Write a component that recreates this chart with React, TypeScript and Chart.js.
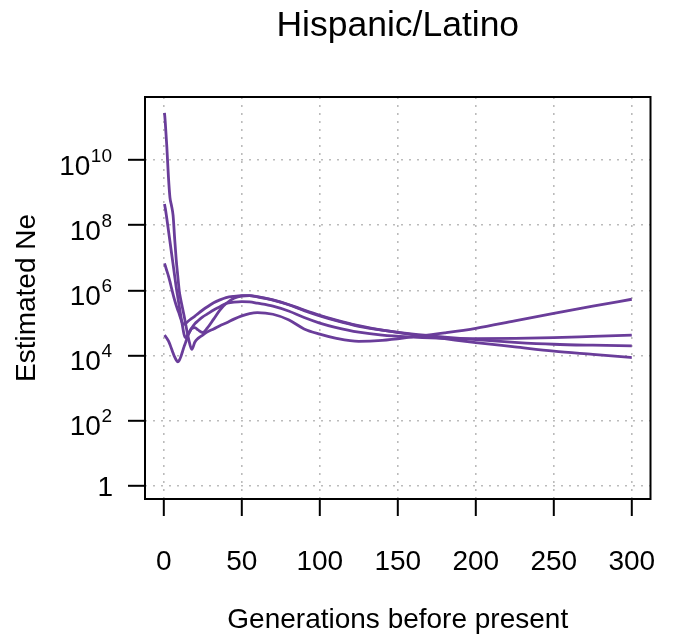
import React, { useEffect, useRef } from 'react';
import { Chart, registerables } from 'chart.js';

Chart.register(...registerables);

const FONT = "'Liberation Sans', Arial, Helvetica, sans-serif";
const LINE_COLOR = '#6a3d9a';

const chartTitle = 'Hispanic/Latino';
const xAxisTitle = 'Generations before present';
const yAxisTitle = 'Estimated Ne';

const xTicks = [0, 50, 100, 150, 200, 250, 300];
const yTickExponents = [0, 2, 4, 6, 8, 10];
const xRange = [-12, 312];
const yRange = [0.4, 8.6e11];

const generations = [
  0.5, 1, 2, 3, 4, 5, 6, 7, 8, 9, 10, 11, 12, 13, 14, 16, 18, 20, 22, 25, 28,
  32, 36, 40, 45, 50, 55, 60, 70, 80, 90, 100, 110, 125, 140, 160, 180, 200,
  225, 250, 275, 300,
];

// log10(Ne)
const log10NeRun1 = [
  11.45, 11.15, 10.4, 9.5, 8.85, 8.6, 8.3, 7.6, 6.95, 6.45, 5.97, 5.7, 5.47,
  5.24, 4.98, 4.5, 4.19, 4.42, 4.53, 4.63, 4.73, 4.82, 4.92, 5.0, 5.12, 5.22,
  5.29, 5.32, 5.27, 5.1, 4.82, 4.66, 4.54, 4.44, 4.47, 4.58, 4.7, 4.84, 5.07,
  5.3, 5.52, 5.73,
];
const log10NeRun2 = [
  8.65, 8.52, 8.2, 7.85, 7.5, 7.15, 6.8, 6.45, 6.1, 5.8, 5.5, 5.2, 4.92, 4.66,
  4.55, 4.68, 4.84, 4.86, 4.79, 4.71, 4.85, 5.12, 5.4, 5.6, 5.76, 5.83, 5.84,
  5.8, 5.7, 5.56, 5.38, 5.22, 5.08, 4.9, 4.78, 4.66, 4.57, 4.49, 4.41, 4.35,
  4.32, 4.3,
];
const log10NeRun3 = [
  6.83, 6.76, 6.6, 6.45, 6.27, 6.07, 5.88, 5.7, 5.54, 5.4, 5.27, 5.12, 5.0,
  4.96, 4.99, 5.07, 5.14, 5.21, 5.29, 5.4, 5.5, 5.62, 5.71, 5.78, 5.82, 5.84,
  5.84, 5.81, 5.71, 5.57, 5.4, 5.24, 5.1, 4.92, 4.78, 4.64, 4.52, 4.4, 4.27,
  4.14, 4.04, 3.94,
];
const log10NeRun4 = [
  4.63, 4.6, 4.53, 4.45, 4.34, 4.21, 4.08, 3.96, 3.87, 3.81, 3.86, 3.97, 4.12,
  4.27, 4.4, 4.68, 4.85, 4.98, 5.07, 5.19, 5.28, 5.4, 5.5, 5.6, 5.64, 5.66,
  5.65, 5.61, 5.52, 5.37, 5.17, 5.0, 4.87, 4.72, 4.63, 4.57, 4.53, 4.52, 4.53,
  4.55, 4.59, 4.63,
];

const runs = [log10NeRun1, log10NeRun2, log10NeRun3, log10NeRun4];

const yPowerLabels = {
  id: 'yPowerLabels',
  afterDraw(chart: any) {
    const scale = chart.scales.y;
    const ctx = chart.ctx as CanvasRenderingContext2D;
    const right = scale.right - 33;
    ctx.save();
    ctx.fillStyle = '#000';
    ctx.textAlign = 'right';
    ctx.textBaseline = 'alphabetic';
    for (const e of yTickExponents) {
      const y = scale.getPixelForValue(Math.pow(10, e));
      if (e === 0) {
        ctx.font = `28px ${FONT}`;
        ctx.fillText('1', right + 1, y + 10);
      } else {
        const exp = String(e);
        ctx.font = `19px ${FONT}`;
        const ew = ctx.measureText(exp).width;
        ctx.fillText(exp, right, y + 1.5);
        ctx.font = `28px ${FONT}`;
        ctx.fillText('10', right - ew - 0.5, y + 14.5);
      }
    }
    ctx.restore();
  },
};

const frameBox = {
  id: 'frameBox',
  afterDraw(chart: any) {
    const { left, top, right, bottom } = chart.chartArea;
    const ctx = chart.ctx as CanvasRenderingContext2D;
    ctx.save();
    ctx.strokeStyle = '#000';
    ctx.lineWidth = 2;
    ctx.strokeRect(left, top, right - left, bottom - top);
    ctx.restore();
  },
};

export default function App() {
  const ref = useRef<HTMLCanvasElement>(null);

  useEffect(() => {
    if (!ref.current) return;
    const datasets = runs.map((run, k) => ({
      label: `run ${k + 1}`,
      data: generations.map((g, i) => ({ x: g, y: Math.pow(10, run[i]) })),
      borderColor: LINE_COLOR,
      backgroundColor: LINE_COLOR,
      borderWidth: 2.8,
      pointRadius: 0,
      fill: false,
      cubicInterpolationMode: 'monotone' as const,
    }));

    const chart = new Chart(ref.current, {
      type: 'line',
      data: { datasets },
      options: {
        animation: false,
        responsive: true,
        maintainAspectRatio: false,
        layout: { padding: { left: 0, right: 16.5, top: 0, bottom: 0 } },
        plugins: {
          legend: { display: false },
          tooltip: { enabled: false },
          title: {
            display: true,
            text: chartTitle,
            fullSize: false,
            color: '#000',
            font: { family: FONT, size: 35.5, weight: 'normal', lineHeight: 1 },
            padding: { top: 0, bottom: 53.5 },
          },
        },
        scales: {
          x: {
            type: 'linear',
            min: xRange[0],
            max: xRange[1],
            afterBuildTicks: (scale: any) => {
              scale.ticks = xTicks.map((v) => ({ value: v }));
            },
            afterFit: (scale: any) => {
              scale.height = 139;
              scale.paddingLeft = 0;
              scale.paddingRight = 0;
            },
            ticks: {
              color: '#000',
              font: { family: FONT, size: 28, lineHeight: 1.2 },
              padding: 29,
              maxRotation: 0,
              autoSkip: false,
            },
            grid: {
              color: '#bbbbbb',
              lineWidth: 1.6,
              drawTicks: true,
              tickLength: 17,
              tickColor: '#000',
              tickWidth: 2,
            },
            border: { display: false, dash: [2, 6] },
            title: {
              display: true,
              text: xAxisTitle,
              color: '#000',
              font: { family: FONT, size: 28, lineHeight: 1.2 },
              padding: { top: 0, bottom: 1 },
            },
          },
          y: {
            type: 'logarithmic',
            min: yRange[0],
            max: yRange[1],
            afterBuildTicks: (scale: any) => {
              scale.ticks = yTickExponents.map((e) => ({ value: Math.pow(10, e) }));
            },
            afterFit: (scale: any) => {
              scale.width = 137;
              scale.paddingTop = 0;
              scale.paddingBottom = 0;
            },
            ticks: { display: false },
            grid: {
              color: '#bbbbbb',
              lineWidth: 1.6,
              drawTicks: true,
              tickLength: 17,
              tickColor: '#000',
              tickWidth: 2,
            },
            border: { display: false, dash: [2, 6] },
            title: {
              display: true,
              text: yAxisTitle,
              color: '#000',
              font: { family: FONT, size: 28, lineHeight: 1 },
              padding: { top: 5, bottom: 0 },
            },
          },
        },
      },
      plugins: [yPowerLabels, frameBox],
    });

    return () => chart.destroy();
  }, []);

  return (
    <div style={{ position: 'absolute', left: 8, top: 8, width: 659, height: 630 }}>
      <canvas ref={ref} />
    </div>
  );
}
